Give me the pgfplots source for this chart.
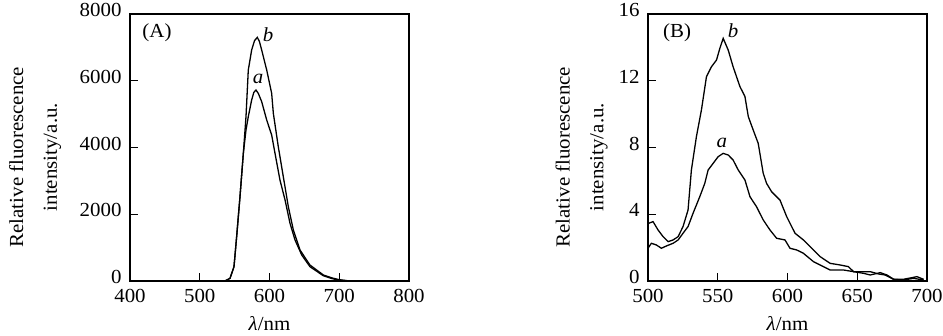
\documentclass[border=0pt]{standalone}
\usepackage{fontspec}
\setmainfont{Liberation Serif}
\newfontfamily\figfont[FakeStretch=1.05]{Liberation Serif}
\usepackage{pgfplots}
\pgfplotsset{compat=1.18}
\begin{document}
\begin{tikzpicture}
\useasboundingbox (0,0) rectangle (943bp,336bp);
\pgfplotsset{
  every axis/.append style={
    scale only axis, width=279bp, height=267bp,
    anchor=south west,
    tick align=inside, xtick pos=left, ytick pos=left,
    major tick length=8bp,
    axis line style={line width=1.3bp},
    tick style={black, line width=1.2bp},
    /pgf/number format/assume math mode=true,
    /pgf/number format/1000 sep={},
    ticklabel style={font=\figfont\fontsize{20}{22}\selectfont},
    xticklabel style={yshift=-5bp},
    yticklabel style={xshift=-5bp, yshift=4bp},
    label style={font=\figfont\fontsize{20}{34}\selectfont},
    ylabel style={align=center, anchor=center},
    xlabel style={anchor=north},
  }
}
\begin{axis}[at={(130bp,55bp)},
  xmin=400, xmax=800, ymin=0, ymax=8000,
  xtick={400,500,600,700,800}, ytick={0,2000,4000,6000,8000},
  ylabel={Relative fluorescence\\intensity/a.u.},
  ylabel style={at={(axis description cs:-0.34,0.464)}},
  xlabel={\textit{λ}/nm},
  xlabel style={at={(axis description cs:0.5,-0.12)}},
]
% curve b
\addplot[black, line width=1.3bp] coordinates {
(530,0) (536.2,0) (543.4,80) (549.1,429) (552.9,1328) (557.7,2526) (562.5,3826)
(566.3,4923) (569.6,6322) (574.4,6921) (578.5,7200) (582.5,7300) (585.5,7180)
(588.8,6921) (596,6322) (603.1,5623) (605.5,5024) (612.6,4024) (619.8,3126)
(627,2226) (634.2,1528) (643.7,929) (658,479) (677.2,180) (690,90) (700,40)
(712,8) (730,0) (773,0)};
% curve a
\addplot[black, line width=1.3bp] coordinates {
(530,0) (536.2,0) (543.4,80) (549.1,429) (552.9,1328) (557.7,2526) (562.5,3826)
(566.3,4524) (569.6,4923) (574.4,5423) (577.5,5650) (580.6,5723) (584,5620)
(588.8,5373) (596,4823) (603.1,4374) (607.9,3826) (615,3026) (622.3,2427)
(629.4,1728) (636.6,1228) (646.2,779) (658,429) (677,160) (690,70) (700,25)
(712,5) (730,0) (773,0)};
\node[font=\figfont\fontsize{20}{22}\selectfont] at (axis cs:438.7,7431) {(A)};
\node[font=\figfont\fontsize{20}{22}\selectfont\itshape] at (axis cs:598,7371) {b};
\node[font=\figfont\fontsize{20}{22}\selectfont\itshape] at (axis cs:583.5,6050) {a};
\end{axis}
\begin{axis}[at={(648bp,55bp)},
  xmin=500, xmax=700, ymin=0, ymax=16,
  xtick={500,550,600,650,700}, ytick={0,4,8,12,16},
  ylabel={Relative fluorescence\\intensity/a.u.},
  ylabel style={at={(axis description cs:-0.238,0.464)}},
  xlabel={\textit{λ}/nm},
  xlabel style={at={(axis description cs:0.5,-0.12)}},
]
% curve b
\addplot[black, line width=1.3bp] coordinates {
(500.3,3.45) (503.6,3.56) (507.2,3.06) (510.8,2.66) (514.4,2.36) (518,2.46)
(521.6,2.66) (525.1,3.26) (528.7,4.25) (531.1,6.65) (534.7,8.65) (538.3,10.25)
(541.9,12.24) (545.5,12.84) (549.1,13.24) (551.5,13.94) (553.9,14.54)
(557.5,13.84) (561,12.84) (565.9,11.65) (569.5,11.05) (571.9,9.85) (575.4,9.05)
(579,8.25) (582.6,6.45) (585,5.85) (588.6,5.35) (594.6,4.85) (599.4,3.86)
(605.4,2.86) (611.4,2.46) (616.2,2.06) (623.4,1.46) (630.5,1.06) (637.7,0.96)
(643.7,0.86) (647.3,0.56) (659.3,0.56) (665.3,0.42) (670,0.36) (676,0.1)
(683,0.06) (690.4,0.16) (697.6,0.06)};
% curve a
\addplot[black, line width=1.3bp] coordinates {
(500.3,2.0) (502.4,2.26) (506,2.16) (509.6,1.96) (513.2,2.1) (518,2.26)
(521.6,2.46) (525.1,2.86) (528.7,3.26) (532.3,4.06) (537.1,5.05) (540.7,5.85)
(543.1,6.65) (546.7,7.05) (550.3,7.45) (553.9,7.65) (557.5,7.55) (561,7.25)
(564.7,6.65) (569.5,6.05) (573.1,5.05) (577.8,4.45) (582.6,3.66) (587.4,3.06)
(592.2,2.56) (598.2,2.46) (601.8,1.96) (606.6,1.86) (611.4,1.66) (618.6,1.16)
(625.7,0.86) (630.5,0.66) (640.1,0.66) (647.3,0.56) (654.5,0.46) (659.3,0.36)
(666.5,0.5) (671.3,0.36) (676.2,0.1) (683,0.1) (692.8,0.26) (697.6,0.1)};
\node[font=\figfont\fontsize{20}{22}\selectfont] at (axis cs:520.8,14.86) {(B)};
\node[font=\figfont\fontsize{20}{22}\selectfont\itshape] at (axis cs:561,15.0) {b};
\node[font=\figfont\fontsize{20}{22}\selectfont\itshape] at (axis cs:553,8.3) {a};
\end{axis}
\end{tikzpicture}
\end{document}
